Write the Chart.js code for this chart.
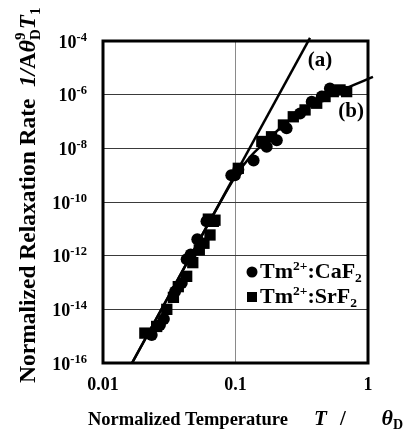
<!DOCTYPE html>
<html>
<head>
<meta charset="utf-8">
<script src="https://cdn.jsdelivr.net/npm/chart.js@4"></script>
<style>
  html, body { margin: 0; padding: 0; background: #fff; }
  #wrap { width: 406px; height: 439px; }
</style>
</head>
<body>
<div id="wrap"><canvas id="relax" width="406" height="439"></canvas></div>
<script>
// values (normalized temperature T/θD, normalized rate)
const caT    = [0.0233, 0.0269, 0.0288, 0.0350, 0.0393, 0.0428, 0.0459, 0.0515, 0.0604, 0.093, 0.099, 0.105, 0.137, 0.172, 0.205, 0.243, 0.307, 0.376, 0.448, 0.516];
const caRate = [1.1e-15, 2.6e-15, 4.4e-15, 4.6e-14, 9.5e-14, 7.4e-13, 1.1e-12, 4.1e-12, 1.9e-11, 1.0e-9, 1.0e-9, 1.6e-9, 3.5e-9, 1.15e-8, 2.0e-8, 5.6e-8, 2.0e-7, 5.5e-7, 8.5e-7, 1.7e-6];

const srT    = [0.0207, 0.0254, 0.0303, 0.0340, 0.0370, 0.0428, 0.0476, 0.0533, 0.0578, 0.0624, 0.0642, 0.068, 0.0700, 0.105, 0.158, 0.187, 0.230, 0.273, 0.335, 0.410, 0.474, 0.547, 0.615, 0.690];
const srRate = [1.3e-15, 2.3e-15, 1.0e-14, 2.8e-14, 7e-14, 1.7e-13, 5.5e-13, 1.65e-12, 2.9e-12, 2.3e-11, 5.9e-12, 1.9e-11, 2.1e-11, 1.8e-9, 1.8e-8, 2.7e-8, 7.4e-8, 1.5e-7, 2.7e-7, 4.8e-7, 8.5e-7, 1.3e-6, 1.5e-6, 1.3e-6];

// fitted curves as drawn: (a) straight line, (b) bending curve
const lineAT    = [0.01656, 0.365];
const lineARate = [1e-16, 1.3e-4];
const lineBT    = [0.01656, 0.04, 0.07, 0.1, 0.13, 0.17, 0.22, 0.3, 0.4, 0.5, 0.69, 1.09];
const lineBRate = [1e-16, 2.8e-13, 4.3e-11, 9e-10, 5e-9, 1.8e-8, 6e-8, 2.0e-7, 5.3e-7, 1.0e-6, 1.8e-6, 4.6e-6];

const xTicks = [0.01, 0.1, 1];
const xTickLabels = ['0.01', '0.1', '1'];
const yTicks = [1e-16, 1e-14, 1e-12, 1e-10, 1e-8, 1e-6, 1e-4];
const yTickExp = ['-16', '-14', '-12', '-10', '-8', '-6', '-4'];

const curveLabels = ['(a)', '(b)'];
const curveLabelT = [0.434, 0.745];
const curveLabelRate = [1.8e-5, 2.3e-7];

const SERIF = '"Liberation Serif", "Times New Roman", serif';
function fnt(size, italic) {
  return (italic ? 'italic ' : '') + 'bold ' + size + 'px ' + SERIF;
}
// parts: [text, size, italic, yShift, noAdvance]
function richWidth(ctx, parts) {
  let w = 0;
  parts.forEach(p => { if (p[4]) return; ctx.font = fnt(p[1], p[2]); w += ctx.measureText(p[0]).width; });
  return w;
}
function drawRich(ctx, parts, x, y, align) {
  let w = richWidth(ctx, parts);
  let cx = align === 'right' ? x - w : (align === 'center' ? x - w / 2 : x);
  ctx.textAlign = 'left';
  ctx.textBaseline = 'alphabetic';
  parts.forEach(p => {
    ctx.font = fnt(p[1], p[2]);
    ctx.fillText(p[0], cx, y + (p[3] || 0));
    if (!p[4]) cx += ctx.measureText(p[0]).width;
  });
}

const toXY = (xs, ys) => xs.map((x, i) => ({ x: x, y: ys[i] }));

const decor = {
  id: 'decor',
  afterDraw(chart) {
    const ctx = chart.ctx;
    const a = chart.chartArea;
    const xs = chart.scales.x, ys = chart.scales.y;
    ctx.save();
    ctx.fillStyle = '#000';
    ctx.strokeStyle = '#000';

    // frame
    ctx.lineWidth = 3;
    ctx.strokeRect(a.left, a.top, a.right - a.left, a.bottom - a.top);

    // y tick labels
    yTicks.forEach((v, i) => {
      const py = ys.getPixelForValue(v);
      drawRich(ctx, [['10', 18, false, 0], [yTickExp[i], 12.5, false, -7]], 87, py + 6.5, 'right');
    });
    // x tick labels
    xTicks.forEach((v, i) => {
      const px = xs.getPixelForValue(v);
      drawRich(ctx, [[xTickLabels[i], 18, false, 0]], px, 390, 'center');
    });

    // x title
    drawRich(ctx, [['Normalized Temperature', 18.5, false, 0]], 88, 425, 'left');
    drawRich(ctx, [['T', 21, true, 0]], 314, 425, 'left');
    drawRich(ctx, [['/', 21, false, 0]], 340, 425, 'left');
    drawRich(ctx, [['\u03b8', 22, true, 0], ['D', 14, false, 4]], 403, 425, 'right');

    // y title (rotated)
    ctx.save();
    ctx.translate(35, 383);
    ctx.rotate(-Math.PI / 2);
    drawRich(ctx, [
      ['Normalized Relaxation Rate', 23.5, false, 0],
      ['  1/', 23, true, 0], ['A', 23, false, 0], ['\u03b8', 24, true, 0],
      ['9', 15, false, -10, true], ['D', 15, false, 5], ['T', 23, true, 0], ['1', 15, false, 5]
    ], 0, 0, 'left');
    ctx.restore();

    // curve labels
    curveLabels.forEach((t, i) => {
      ctx.font = fnt(21, false);
      ctx.textAlign = 'center';
      ctx.textBaseline = 'middle';
      ctx.fillText(t, xs.getPixelForValue(curveLabelT[i]), ys.getPixelForValue(curveLabelRate[i]));
    });

    // legend
    ctx.beginPath();
    ctx.arc(252, 272, 5.5, 0, Math.PI * 2);
    ctx.fill();
    ctx.fillRect(247, 292, 10, 10);
    drawRich(ctx, [['Tm', 22, false, 0], ['2+', 13.5, false, -8], [':CaF', 22, false, 0], ['2', 13.5, false, 4]], 260, 278, 'left');
    drawRich(ctx, [['Tm', 22, false, 0], ['2+', 13.5, false, -8], [':SrF', 22, false, 0], ['2', 13.5, false, 4]], 260, 303, 'left');
    ctx.restore();
  }
};

new Chart(document.getElementById('relax').getContext('2d'), {
  type: 'scatter',
  data: {
    datasets: [
      {
        label: 'Tm2+:CaF2',
        data: toXY(caT, caRate),
        pointStyle: 'circle',
        pointRadius: 6,
        backgroundColor: '#000',
        borderWidth: 0
      },
      {
        label: 'Tm2+:SrF2',
        data: toXY(srT, srRate),
        pointStyle: 'rect',
        pointRadius: 8,
        backgroundColor: '#000',
        borderWidth: 0
      },
      {
        label: '(a)',
        data: toXY(lineAT, lineARate),
        showLine: true,
        pointRadius: 0,
        borderColor: '#000',
        borderWidth: 2.5,
        clip: { left: 0, top: 6, right: 6, bottom: 0 }
      },
      {
        label: '(b)',
        data: toXY(lineBT, lineBRate),
        showLine: true,
        pointRadius: 0,
        borderColor: '#000',
        borderWidth: 2.5,
        cubicInterpolationMode: 'monotone',
        clip: { left: 0, top: 6, right: 6, bottom: 0 }
      }
    ]
  },
  options: {
    responsive: false,
    animation: false,
    layout: { padding: { left: 103, top: 41, right: 38, bottom: 76 } },
    plugins: { legend: { display: false }, tooltip: { enabled: false } },
    scales: {
      x: {
        type: 'logarithmic',
        min: 0.01,
        max: 1,
        afterBuildTicks: s => { s.ticks = xTicks.map(v => ({ value: v })); },
        ticks: { display: false },
        grid: { color: '#8a8a8a', lineWidth: 1, drawTicks: false },
        border: { display: false }
      },
      y: {
        type: 'logarithmic',
        min: 1e-16,
        max: 1e-4,
        afterBuildTicks: s => { s.ticks = yTicks.map(v => ({ value: v })); },
        ticks: { display: false },
        grid: { color: '#3a3a3a', lineWidth: 1, drawTicks: false },
        border: { display: false }
      }
    }
  },
  plugins: [decor]
});
</script>
</body>
</html>
